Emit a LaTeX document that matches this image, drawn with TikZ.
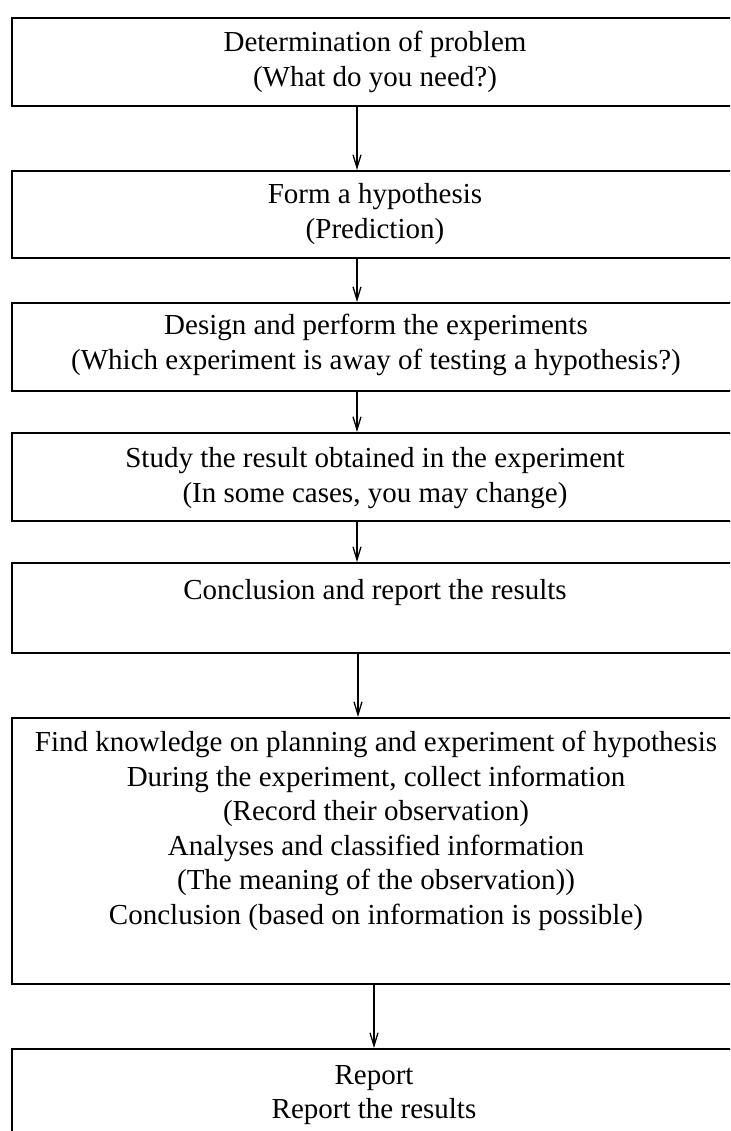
\documentclass[tikz,border=0pt]{standalone}
\usepackage{fontspec}
\setmainfont{Liberation Serif}
\usetikzlibrary{arrows.meta}
\begin{document}
\begin{tikzpicture}[x=1pt,y=-1pt,
 box/.style={draw, line width=1.8pt, rectangle, anchor=north west, inner sep=0pt, minimum width=740pt},
 txt/.style={align=center, font=\fontsize{29}{34.5}\selectfont, inner sep=0pt},
 arr/.style={line width=1.3pt, -{Straight Barb[length=13pt,width=8pt]}}]
\useasboundingbox (0,0) rectangle (730,1131);
\clip (0,0) rectangle (730,1131);
\node[box, minimum height=88pt] (b1) at (11,17) {};
\node[box, minimum height=87pt] (b2) at (11,170) {};
\node[box, minimum height=88pt] (b3) at (11,302) {};
\node[box, minimum height=88pt] (b4) at (11,432) {};
\node[box, minimum height=90pt] (b5) at (11,562) {};
\node[box, minimum height=266pt] (b6) at (11,717) {};
\node[box, minimum height=100pt] (b7) at (11,1048) {};
\node[txt] (t1) at (375,62) {Determination of problem\\(What do you need?)};
\node[txt] (t2) at (375,214) {Form a hypothesis\\(Prediction)};
\node[txt] (t3) at (376,345) {Design and perform the experiments\\(Which experiment is away of testing a hypothesis?)};
\node[txt] (t4) at (375,478) {Study the result obtained in the experiment\\(In some cases, you may change)};
\node[txt] (t5) at (375,593) {Conclusion and report the results};
\node[txt] (t6) at (376,831) {Find knowledge on planning and experiment of hypothesis\\During the experiment, collect information\\(Record their observation)\\Analyses and classified information\\(The meaning of the observation))\\Conclusion (based on information is possible)};
\node[txt] (t7) at (374,1095) {Report\\Report the results};
\coordinate (ax) at (357,0);
\coordinate (bx) at (358,0);
\coordinate (cx) at (374,0);
\draw[arr] (b1.south -| ax) -- (b2.north -| ax);
\draw[arr] (b2.south -| ax) -- (b3.north -| ax);
\draw[arr] (b3.south -| ax) -- (b4.north -| ax);
\draw[arr] (b4.south -| ax) -- (b5.north -| ax);
\draw[arr] (b5.south -| bx) -- (b6.north -| bx);
\draw[arr] (b6.south -| cx) -- (b7.north -| cx);
\end{tikzpicture}
\end{document}
